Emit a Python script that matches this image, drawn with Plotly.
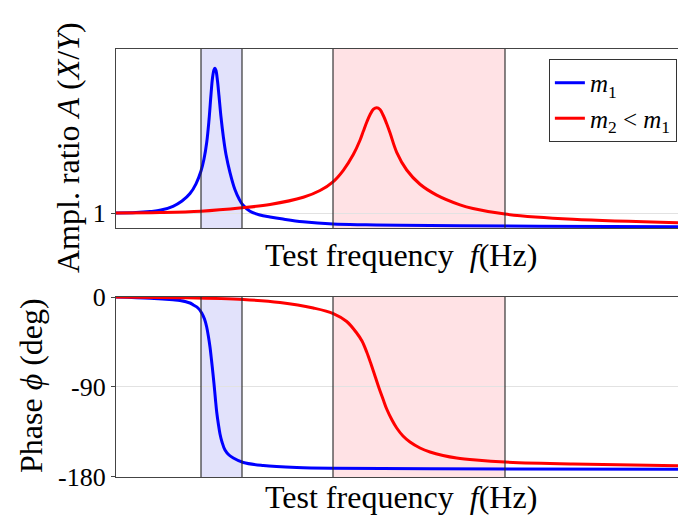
import plotly.graph_objects as go

# ---- data (frequency in arbitrary units) ----
f_blue_amp = [0, 2, 3.4, 4.5, 5.7, 6.6, 7.4, 8.0, 8.5, 8.8, 9.07, 9.3, 9.5, 9.65, 9.8, 9.9,
              10.0, 10.15, 10.3, 10.5, 10.73, 11.0, 11.4, 11.9, 12.3, 12.67, 13.4, 14.4, 15.4,
              16.7, 18.7, 21.7, 25, 28.4, 34.4, 42.4, 56.2]
a_blue = [1.0, 1.03, 1.10, 1.2, 1.45, 1.8, 2.3, 2.95, 3.8, 4.6, 5.7, 7.2, 8.9, 10.0, 10.55, 10.65,
          10.5, 9.8, 8.8, 7.4, 6.1, 4.9, 3.7, 2.55, 1.95, 1.55, 1.12, 0.87, 0.74,
          0.6, 0.42, 0.27, 0.22, 0.19, 0.15, 0.12, 0.09]

f_red_amp = [0, 4.4, 8.5, 12.6, 15.4, 18.73, 20.4, 21.73, 22.73, 23.73, 24.4, 24.73, 25.1, 25.4,
             25.75, 26.07, 26.4, 26.73, 27.07, 27.4, 28.07, 29.07, 30.4, 32.07, 34.4, 35.7, 38.9,
             45.7, 56.2]
a_red = [1.0, 1.03, 1.12, 1.35, 1.57, 2.05, 2.5, 3.1, 3.85, 4.9, 5.85, 6.45, 7.1, 7.55,
         7.92, 8.02, 7.9, 7.5, 6.95, 6.35, 5.05, 3.87, 2.92, 2.2, 1.55, 1.3, 0.93,
         0.58, 0.36]

f_blue_ph = [0, 3.4, 5.7, 6.4, 7.4, 7.73, 8.2, 8.57, 8.85, 9.07, 9.25, 9.4, 9.55, 9.7, 9.83,
             9.95, 10.07, 10.25, 10.4, 10.6, 10.9, 11.3, 11.73, 12.73, 14.73, 18.07, 21.73,
             31.4, 56.2]
p_blue = [0, -1.3, -2.8, -3.5, -6, -8, -11, -16, -22, -30, -40, -50, -63, -77, -90,
          -103, -115, -128, -137, -145, -153, -158, -161, -165.5, -168.5, -170.5, -171.3,
          -171.7, -172.3]

f_red_ph = [0, 6.4, 12.73, 16.4, 19.73, 21.73, 23.07, 24.07, 24.6, 25.07, 25.5, 25.9, 26.3,
            26.7, 27.07, 27.6, 28.07, 28.7, 29.4, 30.4, 31.4, 32.7, 34.07, 36, 38.9, 45.7, 56.2]
p_red = [0, -0.7, -2.5, -5.5, -11, -16.5, -24.5, -36, -44, -55, -67, -79, -91,
         -102, -112, -123, -131, -139, -145, -151, -155, -158.5, -161, -163, -165, -167, -168.7]

band_blue = [8.5, 12.6]
band_red = [21.7, 38.9]
x_range = [0, 56.2]
amp_range = [0, 11.93]
amp_ticks = [1]
phase_range = [-180, 0]
phase_ticks = [0, -90, -180]

names = ["<i>m</i><sub>1</sub>", "<i>m</i><sub>2</sub> &lt; <i>m</i><sub>1</sub>"]
colors = ["#0000ff", "#ff0000"]
FONT = "Liberation Serif"

fig = go.Figure()
line_kw = dict(shape="spline", smoothing=1.0, width=3)
fig.add_trace(go.Scatter(x=f_blue_amp, y=a_blue, mode="lines", name=names[0],
                         line=dict(color=colors[0], **line_kw), xaxis="x", yaxis="y"))
fig.add_trace(go.Scatter(x=f_red_amp, y=a_red, mode="lines", name=names[1],
                         line=dict(color=colors[1], **line_kw), xaxis="x", yaxis="y"))
fig.add_trace(go.Scatter(x=f_blue_ph, y=p_blue, mode="lines", showlegend=False,
                         line=dict(color=colors[0], **line_kw), xaxis="x2", yaxis="y2"))
fig.add_trace(go.Scatter(x=f_red_ph, y=p_red, mode="lines", showlegend=False,
                         line=dict(color=colors[1], **line_kw), xaxis="x2", yaxis="y2"))

shapes = []
for xr, yr in (("x", "y domain"), ("x2", "y2 domain")):
    for band, fc in ((band_blue, "rgba(150,150,240,0.28)"), (band_red, "rgba(255,160,170,0.30)")):
        shapes.append(dict(type="rect", xref=xr, yref=yr, x0=band[0], x1=band[1], y0=0, y1=1,
                           fillcolor=fc, line=dict(width=0), layer="below"))
        for xv in band:
            shapes.append(dict(type="line", xref=xr, yref=yr, x0=xv, x1=xv, y0=0, y1=1,
                               line=dict(color="rgba(40,40,40,0.75)", width=1.5), layer="above"))

axis_common = dict(showline=True, linecolor="#444", linewidth=1.3, zeroline=False, automargin=False)
tickfont = dict(family=FONT, size=26, color="black")

fig.update_layout(
    width=678, height=516,
    margin=dict(l=116, r=0, t=0, b=0, pad=0, autoexpand=False),
    paper_bgcolor="white", plot_bgcolor="white",
    shapes=shapes,
    xaxis=dict(domain=[0, 1], range=x_range, showticklabels=False, ticks="",
               showgrid=False, mirror=True, anchor="y", **axis_common),
    yaxis=dict(domain=[0.558, 0.905], range=amp_range, tickvals=amp_ticks, ticks="outside",
               ticklen=4, tickcolor="#444", tickfont=tickfont, showgrid=True,
               gridcolor="#e2e2e2", gridwidth=1, anchor="x", **axis_common),
    xaxis2=dict(domain=[0, 1], range=x_range, showticklabels=False, ticks="",
                showgrid=False, mirror=True, anchor="y2", **axis_common),
    yaxis2=dict(domain=[0.0756, 0.4244], range=phase_range, tickvals=phase_ticks,
                ticktext=["0", "-90", "-180"], ticks="outside", ticklen=4, tickcolor="#444",
                tickfont=tickfont, showgrid=True, gridcolor="#e2e2e2", gridwidth=1,
                anchor="x2", **axis_common),
    legend=dict(x=0.998, y=0.8857, xanchor="right", yanchor="top", bgcolor="white",
                bordercolor="#333", borderwidth=1, font=dict(family=FONT, size=25, color="black"),
                tracegroupgap=0, itemwidth=30),
    showlegend=True,
)

title_font = dict(family=FONT, size=32, color="black")
fig.add_annotation(text="Test frequency  <i>f</i>(Hz)", xref="paper", yref="paper",
                   x=(401 - 116) / 562, y=(516 - 255) / 516, xanchor="center", yanchor="middle",
                   showarrow=False, font=title_font)
fig.add_annotation(text="Test frequency  <i>f</i>(Hz)", xref="paper", yref="paper",
                   x=(401 - 116) / 562, y=(516 - 497) / 516, xanchor="center", yanchor="middle",
                   showarrow=False, font=title_font)
fig.add_annotation(text="Ampl. ratio <i>A</i> (<i>X</i>/<i>Y</i>)", xref="paper", yref="paper",
                   x=(68 - 116) / 562, y=(516 - 148) / 516, xanchor="center", yanchor="middle",
                   textangle=-90, showarrow=False, font=title_font)
fig.add_annotation(text="Phase <i>ϕ</i> (deg)", xref="paper", yref="paper",
                   x=(31 - 116) / 562, y=(516 - 386) / 516, xanchor="center", yanchor="middle",
                   textangle=-90, showarrow=False, font=title_font)

fig.write_html("out.html")
